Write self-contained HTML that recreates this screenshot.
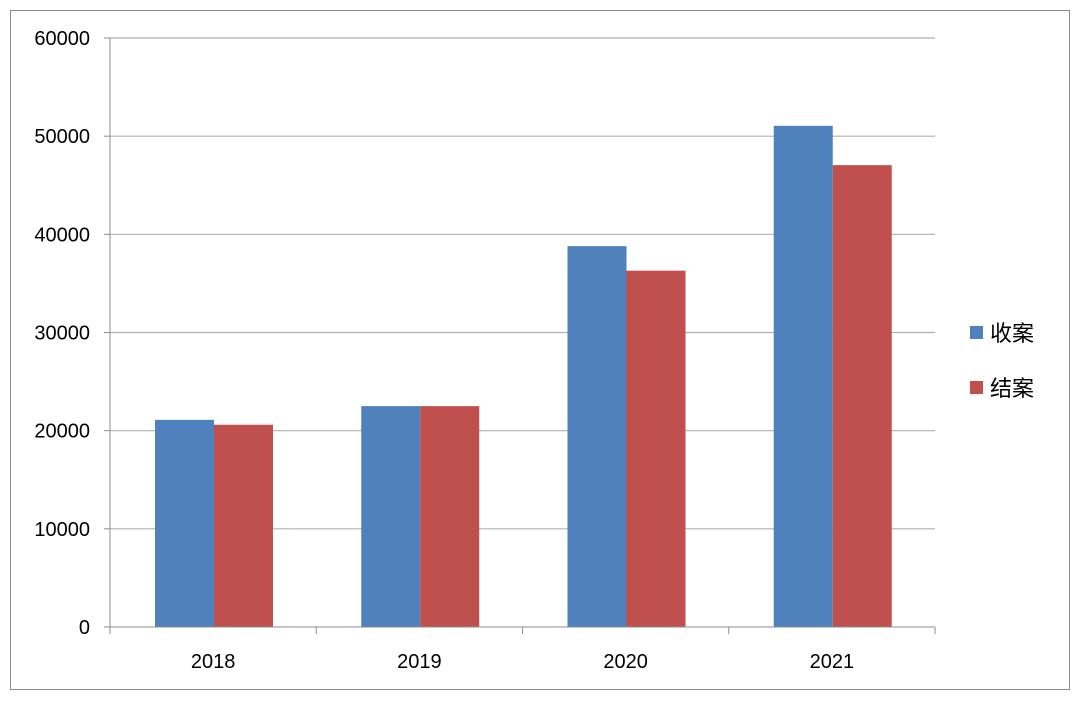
<!DOCTYPE html>
<html><head><meta charset="utf-8"><style>
html,body{margin:0;padding:0;background:#fff;}
svg{display:block;font-family:"Liberation Sans","Noto Sans CJK SC",sans-serif;}
</style></head><body>
<svg id="chart" width="1080" height="701" xmlns="http://www.w3.org/2000/svg">
<rect x="10.5" y="10.5" width="1059" height="679" fill="#fff" stroke="#8c8c8c"/>
<g id="grid"></g><g id="bars"></g><g id="axes"></g>
<g>
<rect x="970" y="326" width="13" height="13" fill="#4f81bd"/>
<text x="990" y="341" font-size="22" fill="#000">收案</text>
<rect x="970" y="381" width="13" height="13" fill="#c0504d"/>
<text x="990" y="396" font-size="22" fill="#000">结案</text>
</g>
</svg>
<script>
const categories=["2018","2019","2020","2021"];
const shouan=[21100,22500,38800,51050];
const jiean=[20600,22500,36300,47050];
const yTicks=[0,10000,20000,30000,40000,50000,60000];
const NS="http://www.w3.org/2000/svg";
const L=110,R=935,T=38,B=627,yMax=60000;
const y=v=>B-(v/yMax)*(B-T);
const bw=(R-L)/categories.length;
const x=i=>L+i*bw;
function mk(tag,attrs,parent){const e=document.createElementNS(NS,tag);for(const k in attrs)e.setAttribute(k,attrs[k]);document.getElementById(parent).appendChild(e);return e;}
yTicks.forEach(v=>{
 if(v>0){const g=mk('line',{x1:L,x2:R,y1:y(v),y2:y(v),stroke:'#b0b0b0','stroke-width':1.2},'grid');
 
 }
 const tk=mk('line',{x1:L-6,x2:L,y1:y(v),y2:y(v),stroke:'#8c8c8c'},'axes');
 
 
 const t=mk('text',{x:90,y:y(v)+7,'text-anchor':'end','font-size':20,fill:'#000'},'axes');t.textContent=v;
 
 
});
const barW=59,off=45;
categories.forEach((c,i)=>{
 const b1=mk('rect',{x:x(i)+off,y:y(shouan[i]),width:barW,height:B-y(shouan[i]),fill:'#4f81bd'},'bars');
 
 
 const b2=mk('rect',{x:x(i)+off+barW,y:y(jiean[i]),width:barW,height:B-y(jiean[i]),fill:'#c0504d'},'bars');
 
 
 const t=mk('text',{x:x(i)+bw/2,y:668,'text-anchor':'middle','font-size':20,fill:'#000'},'axes');t.textContent=c;
 
 
});
for(let i=0;i<=categories.length;i++){
 const tk=mk('line',{x1:x(i),x2:x(i),y1:B,y2:B+7,stroke:'#8c8c8c'},'axes');
 
 
}
const ya=mk('line',{x1:L,x2:L,y1:T,y2:B,stroke:'#8c8c8c'},'axes');


const xa=mk('line',{x1:L,x2:R,y1:B,y2:B,stroke:'#8c8c8c'},'axes');


</script>
</body></html>
